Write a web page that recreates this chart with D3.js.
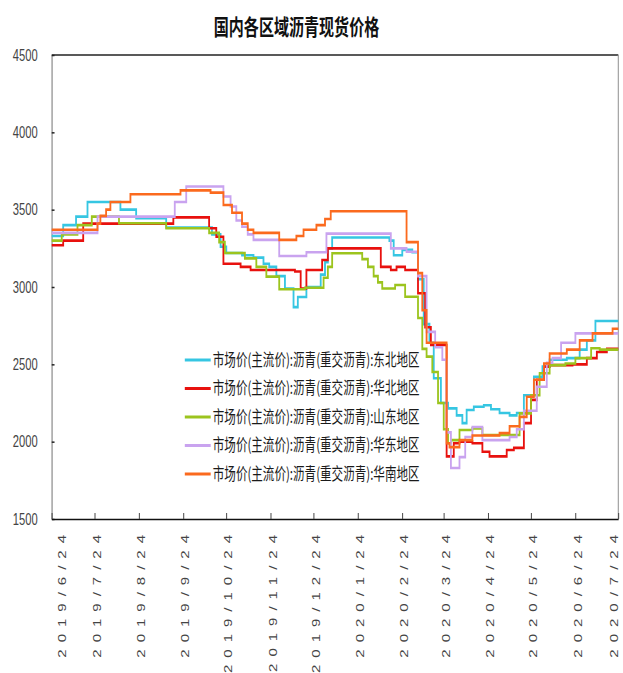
<!DOCTYPE html>
<html>
<head>
<meta charset="utf-8">
<script src="https://cdn.jsdelivr.net/npm/d3@7"></script>
<style>
    body { margin: 0; background: #fff; }
</style>
</head>
<body>
<svg id="chart"></svg>
<script>
// ---- data ----
const title = '国内各区域沥青现货价格'
const seriesNames = [
    '市场价(主流价):沥青(重交沥青):东北地区',
    '市场价(主流价):沥青(重交沥青):华北地区',
    '市场价(主流价):沥青(重交沥青):山东地区',
    '市场价(主流价):沥青(重交沥青):华东地区',
    '市场价(主流价):沥青(重交沥青):华南地区'
]
const yTicks = [1500, 2000, 2500, 3000, 3500, 4000, 4500]
const xTickLabels = ['2019/6/24', '2019/7/24', '2019/8/24', '2019/9/24', '2019/10/24', '2019/11/24',
    '2019/12/24', '2020/1/24', '2020/2/24', '2020/3/24', '2020/4/24', '2020/5/24', '2020/6/24', '2020/7/24']

// price changes: [date, value]
const dongbei = [['2019-06-24', 3330], ['2019-07-02', 3400], ['2019-07-11', 3455], ['2019-07-19', 3550], ['2019-08-11', 3500],
    ['2019-08-22', 3445], ['2019-09-12', 3385], ['2019-10-14', 3340], ['2019-10-20', 3260], ['2019-10-24', 3220],
    ['2019-11-04', 3205], ['2019-11-12', 3190], ['2019-11-19', 3150], ['2019-11-23', 3130], ['2019-11-28', 3070],
    ['2019-12-04', 2990], ['2019-12-10', 2870], ['2019-12-13', 2935], ['2019-12-19', 3000], ['2019-12-29', 3080],
    ['2020-01-01', 3160], ['2020-01-03', 3250], ['2020-01-06', 3320], ['2020-02-15', 3300], ['2020-02-18', 3205],
    ['2020-02-24', 3240], ['2020-03-02', 3225], ['2020-03-06', 3050], ['2020-03-10', 2760], ['2020-03-14', 2640],
    ['2020-03-17', 2410], ['2020-03-22', 2250], ['2020-03-27', 2215], ['2020-04-02', 2170], ['2020-04-06', 2120],
    ['2020-04-09', 2205], ['2020-04-14', 2226], ['2020-04-21', 2235], ['2020-04-26', 2210], ['2020-05-02', 2185],
    ['2020-05-09', 2170], ['2020-05-14', 2185], ['2020-05-19', 2300], ['2020-05-26', 2420], ['2020-06-01', 2485],
    ['2020-06-06', 2530], ['2020-06-18', 2540], ['2020-06-27', 2595], ['2020-07-02', 2655], ['2020-07-08', 2780],
    ['2020-07-24', 2780]]

const huabei = [['2019-06-24', 3270], ['2019-07-02', 3300], ['2019-07-16', 3410], ['2019-09-17', 3450], ['2019-10-12', 3380],
    ['2019-10-17', 3325], ['2019-10-22', 3150], ['2019-11-03', 3130], ['2019-11-10', 3110], ['2019-12-11', 3100],
    ['2019-12-15', 2990], ['2019-12-19', 3110], ['2019-12-30', 3175], ['2020-01-03', 3250], ['2020-02-09', 3130],
    ['2020-02-16', 3110], ['2020-02-20', 3130], ['2020-02-26', 3110], ['2020-03-06', 2960], ['2020-03-11', 2740],
    ['2020-03-15', 2625], ['2020-03-26', 1905], ['2020-03-31', 1990], ['2020-04-04', 2000], ['2020-04-13', 1990],
    ['2020-04-20', 1935], ['2020-04-25', 1905], ['2020-05-07', 1946], ['2020-05-12', 1960], ['2020-05-19', 2120],
    ['2020-05-24', 2270], ['2020-05-28', 2400], ['2020-06-02', 2485], ['2020-06-06', 2495], ['2020-06-22', 2500],
    ['2020-07-02', 2540], ['2020-07-09', 2580], ['2020-07-16', 2600], ['2020-07-24', 2600]]

const shandong = [['2019-06-24', 3300], ['2019-07-01', 3340], ['2019-07-12', 3400], ['2019-07-22', 3455], ['2019-08-10', 3412],
    ['2019-09-12', 3380], ['2019-10-12', 3350], ['2019-10-19', 3290], ['2019-10-23', 3220], ['2019-11-06', 3185],
    ['2019-11-14', 3130], ['2019-11-21', 3067], ['2019-11-30', 2985], ['2019-12-18', 2995], ['2019-12-31', 3060],
    ['2020-01-03', 3130], ['2020-01-06', 3218], ['2020-01-24', 3218], ['2020-01-27', 3180], ['2020-01-31', 3130],
    ['2020-02-04', 3070], ['2020-02-07', 3030], ['2020-02-10', 2990], ['2020-02-19', 3013], ['2020-02-26', 2937],
    ['2020-03-06', 2800], ['2020-03-09', 2600], ['2020-03-12', 2550], ['2020-03-16', 2450], ['2020-03-20', 2250],
    ['2020-03-24', 2080], ['2020-03-27', 1990], ['2020-03-29', 2010], ['2020-04-04', 2075], ['2020-04-13', 2086],
    ['2020-04-20', 2043], ['2020-05-16', 2183], ['2020-05-24', 2300], ['2020-05-30', 2442], ['2020-06-06', 2495],
    ['2020-06-17', 2505], ['2020-06-24', 2540], ['2020-07-05', 2604], ['2020-07-11', 2595], ['2020-07-24', 2595]]

const huadong = [['2019-06-24', 3350], ['2019-07-26', 3455], ['2019-09-18', 3550], ['2019-09-26', 3650], ['2019-10-22', 3585],
    ['2019-10-27', 3520], ['2019-10-31', 3430], ['2019-11-04', 3390], ['2019-11-08', 3340], ['2019-11-12', 3305],
    ['2019-11-30', 3200], ['2019-12-19', 3225], ['2020-01-02', 3345], ['2020-02-16', 3250], ['2020-02-27', 3228],
    ['2020-03-06', 3070], ['2020-03-12', 2710], ['2020-03-18', 2610], ['2020-03-23', 2530], ['2020-03-26', 2060],
    ['2020-03-29', 1830], ['2020-04-04', 1900], ['2020-04-08', 2030], ['2020-04-13', 2095], ['2020-04-20', 2010],
    ['2020-05-09', 2030], ['2020-05-14', 2080], ['2020-05-19', 2200], ['2020-05-28', 2355], ['2020-06-04', 2510],
    ['2020-06-08', 2540], ['2020-06-14', 2640], ['2020-06-24', 2700], ['2020-07-24', 2700]]

const huanan = [['2019-06-24', 3370], ['2019-07-26', 3410], ['2019-07-28', 3460], ['2019-08-01', 3500], ['2019-08-04', 3550],
    ['2019-08-18', 3600], ['2019-09-22', 3625], ['2019-10-13', 3610], ['2019-10-22', 3530], ['2019-10-28', 3480],
    ['2019-11-04', 3410], ['2019-11-08', 3370], ['2019-11-12', 3350], ['2019-11-30', 3305], ['2019-12-12', 3330],
    ['2019-12-17', 3370], ['2019-12-26', 3400], ['2020-01-01', 3440], ['2020-01-05', 3490], ['2020-02-27', 3290],
    ['2020-03-06', 3090], ['2020-03-09', 2850], ['2020-03-12', 2640], ['2020-03-26', 1990], ['2020-03-28', 1965],
    ['2020-04-04', 2010], ['2020-04-13', 2040], ['2020-05-02', 2055], ['2020-05-09', 2100], ['2020-05-16', 2160],
    ['2020-05-21', 2290], ['2020-05-26', 2400], ['2020-06-02', 2505], ['2020-06-06', 2570], ['2020-06-18', 2595],
    ['2020-06-27', 2655], ['2020-07-06', 2700], ['2020-07-20', 2730], ['2020-07-24', 2730]]

const seriesColors = ['#36c6e2', '#e8110e', '#9cc41e', '#c9a3ef', '#fb6a1e']

// ---- drawing ----
const width = 623
const height = 673
// the reference is squeezed horizontally, so draw in a wider space and scale it down
const squeeze = 0.7
const plot = {left: 73.9, right: 883.3, top: 55, bottom: 519}

const parseDay = d3.timeParse('%Y-%m-%d')
const parseTick = d3.timeParse('%Y/%m/%d')
const fontCJK = '"Noto Sans CJK SC", "Noto Sans", sans-serif'
const fontNum = '"Liberation Sans", Arial, sans-serif'

const svg = d3.select('#chart')
    .attr('width', width)
    .attr('height', height)
    .style('background', '#fff')

const g = svg.append('g')
    .attr('transform', `scale(${squeeze}, 1)`)

const xScale = d3.scaleTime()
    .domain([parseTick(xTickLabels[0]), parseTick(xTickLabels[xTickLabels.length - 1])])
    .range([plot.left, plot.right])

const yScale = d3.scaleLinear()
    .domain([yTicks[0], yTicks[yTicks.length - 1]])
    .range([plot.bottom, plot.top])

// title
g.append('text')
    .attr('x', (plot.left + plot.right) / 2 - 55)
    .attr('y', 35)
    .attr('text-anchor', 'middle')
    .style('font-family', fontCJK)
    .style('font-size', '21.5px')
    .style('font-weight', 'bold')
    .style('fill', '#111')
    .text(title)

// frame: top and right borders
g.append('line')
    .attr('x1', plot.left).attr('x2', plot.right)
    .attr('y1', plot.top).attr('y2', plot.top)
    .attr('stroke', '#222').attr('stroke-width', 1.3)
g.append('line')
    .attr('x1', plot.right).attr('x2', plot.right)
    .attr('y1', plot.top).attr('y2', plot.bottom)
    .attr('stroke', '#9a9a9a').attr('stroke-width', 1.6)

// y axis, ticks pointing inward
const yAxis = d3.axisLeft(yScale)
    .tickValues(yTicks)
    .tickSizeInner(-4)
    .tickSizeOuter(0)
    .tickPadding(20)
    .tickFormat(d3.format('d'))

const yAxisG = g.append('g')
    .attr('transform', `translate(${plot.left}, 0)`)
    .call(yAxis)
yAxisG.select('.domain').attr('stroke', '#8f8f8f').attr('stroke-width', 1.8)
yAxisG.selectAll('.tick line').attr('stroke', '#222').attr('stroke-width', 1.5)
yAxisG.selectAll('.tick text')
    .style('font-family', fontNum)
    .style('font-size', '16px')
    .style('fill', '#444')

// x axis with rotated date labels
const xAxis = d3.axisBottom(xScale)
    .tickValues(xTickLabels.map(parseTick))
    .tickSizeInner(-6)
    .tickSizeOuter(0)
    .tickFormat((d, i) => xTickLabels[i])

const lastTick = xTickLabels.length - 1
const xAxisG = g.append('g')
    .attr('transform', `translate(0, ${plot.bottom})`)
    .call(xAxis)
xAxisG.select('.domain').attr('stroke', '#111').attr('stroke-width', 1.4)
xAxisG.selectAll('.tick line').attr('stroke', '#444').attr('stroke-width', 1.4)
// edge labels are pulled inside the picture
xAxisG.selectAll('.tick text')
    .attr('transform', 'rotate(-90)')
    .attr('text-anchor', 'end')
    .attr('x', -9)
    .attr('y', (d, i) => i === 0 ? 14 : (i === lastTick ? -6 : 3))
    .attr('dy', '0.35em')
    .style('font-family', fontNum)
    .style('font-size', '15px')
    .style('letter-spacing', '7px')
    .style('fill', '#444')

// series lines
const series = [dongbei, huabei, shandong, huadong, huanan].map((arr, i) => ({
    name: seriesNames[i],
    color: seriesColors[i],
    values: arr.map(([d, v]) => ({date: parseDay(d), value: v}))
}))

const line = d3.line()
    .x(d => xScale(d.date))
    .y(d => yScale(d.value))
    .curve(d3.curveStepAfter)

g.selectAll('.series')
    .data(series)
    .enter().append('path')
    .attr('class', 'series')
    .attr('fill', 'none')
    .attr('stroke', d => d.color)
    .attr('stroke-width', 2.6)
    .attr('stroke-linejoin', 'miter')
    .attr('d', d => line(d.values))

// legend
const legend = g.append('g')
    .attr('transform', 'translate(264, 360)')

const legendRows = legend.selectAll('.legendRow')
    .data(series)
    .enter().append('g')
    .attr('class', 'legendRow')
    .attr('transform', (d, i) => `translate(0, ${i * 28.5})`)

legendRows.append('line')
    .attr('x1', 0).attr('x2', 37)
    .attr('y1', 0).attr('y2', 0)
    .attr('stroke', d => d.color)
    .attr('stroke-width', 3)

legendRows.append('text')
    .attr('x', 40)
    .attr('y', 0)
    .attr('dy', '0.36em')
    .style('font-family', fontCJK)
    .style('font-size', '16.5px')
    .style('fill', '#1a1a1a')
    .text(d => d.name)
</script>
</body>
</html>
